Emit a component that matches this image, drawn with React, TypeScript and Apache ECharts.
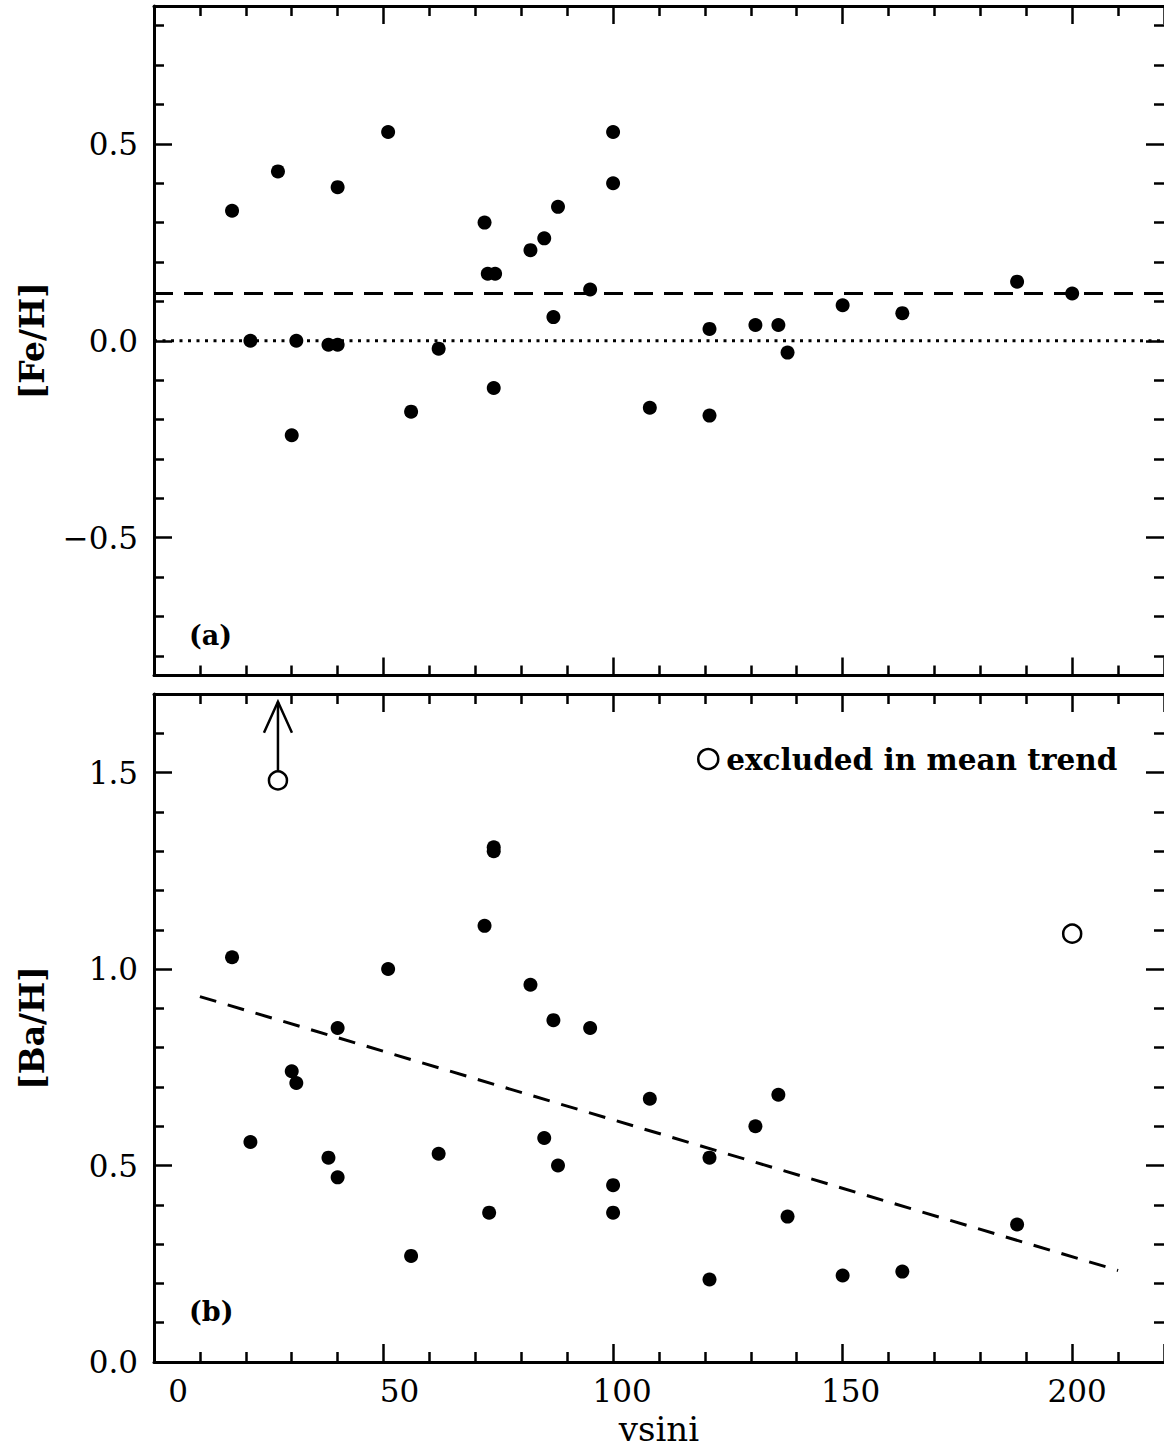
import React, { useEffect, useRef } from "react";
import * as echarts from "echarts";

// ---- data ----
// Panel (a): [Fe/H] vs vsini
const FE_VSINI = [17, 27, 40, 51, 100, 100, 88, 72, 85, 82, 72.7, 74.3, 95, 87, 21, 31, 38, 40, 62, 74, 56, 30, 108, 121, 121, 131, 136, 138, 150, 163, 188, 200];
const FE_H = [0.33, 0.43, 0.39, 0.53, 0.53, 0.40, 0.34, 0.30, 0.26, 0.23, 0.17, 0.17, 0.13, 0.06, 0.00, 0.00, -0.01, -0.01, -0.02, -0.12, -0.18, -0.24, -0.17, -0.19, 0.03, 0.04, 0.04, -0.03, 0.09, 0.07, 0.15, 0.12];
const FE_MEAN = 0.12;
const FE_SOLAR = 0.0;

// Panel (b): [Ba/H] vs vsini
const BA_VSINI = [17, 51, 72, 82, 87, 95, 40, 30, 31, 21, 38, 40, 62, 85, 88, 100, 100, 73, 56, 108, 136, 131, 121, 138, 188, 121, 150, 163, 74, 74];
const BA_H = [1.03, 1.00, 1.11, 0.96, 0.87, 0.85, 0.85, 0.74, 0.71, 0.56, 0.52, 0.47, 0.53, 0.57, 0.50, 0.45, 0.38, 0.38, 0.27, 0.67, 0.68, 0.60, 0.52, 0.37, 0.35, 0.21, 0.22, 0.23, 1.31, 1.30];
const BA_EXCL_VSINI = [27, 200];
const BA_EXCL_H = [1.48, 1.09];
const BA_LIMIT_TIP = 1.68; // upper-limit arrow tip for first excluded point
const TREND_VSINI = [10, 210];
const TREND_BA = [0.93, 0.233];

const X_RANGE = [0, 220];
const FE_RANGE = [-0.85, 0.85];
const BA_RANGE = [0, 1.7];
const X_TICK_LABELS = [0, 50, 100, 150, 200];
const X_LABEL_SHIFT = [24, 16, 9, 8, 5]; // label offsets seen in the reference (px)

const LEGEND_TEXT = "excluded in mean trend";

const FONT = "'DejaVu Serif', serif";

function zip(xs: number[], ys: number[]) {
  return xs.map((x, i) => [x, ys[i]]);
}

export default function App() {
  const ref = useRef<HTMLDivElement>(null);

  useEffect(() => {
    if (!ref.current) return;
    const chart = echarts.init(ref.current, undefined, { renderer: "svg" });

    const axisLine = { show: true, onZero: false, lineStyle: { color: "#000", width: 3 } };
    const hiddenLine = { show: false, onZero: false };
    const axisTick = { show: true, inside: true, length: 18, lineStyle: { color: "#000", width: 2.5 } };
    const minorTick = { show: true, splitNumber: 5, length: 10, lineStyle: { color: "#000", width: 2.5 } };
    const noSplit = { show: false };

    const rich: Record<string, any> = {};
    X_TICK_LABELS.forEach((v, i) => {
      rich["s" + v] = {
        fontFamily: FONT,
        fontSize: 31,
        color: "#000",
        padding: [0, 0, 0, X_LABEL_SHIFT[i] * 2],
      };
    });

    const xBase = (gridIndex: number, position: string, showLabel: boolean) => ({
      type: "value",
      gridIndex,
      position,
      min: X_RANGE[0],
      max: X_RANGE[1],
      interval: 50,
      axisLine,
      axisTick,
      minorTick,
      splitLine: noSplit,
      minorSplitLine: noSplit,
      axisLabel: showLabel
        ? {
            show: true,
            margin: 13,
            showMaxLabel: false,
            fontFamily: FONT,
            fontSize: 31,
            color: "#000",
            formatter: (v: number) => (X_TICK_LABELS.indexOf(v) >= 0 ? `{s${v}|${v}}` : ""),
            rich,
          }
        : { show: false },
    });

    const feFmt = (v: number) => {
      if (Math.abs(v) < 1e-9) return "0.0";
      return v < 0 ? "\u2212" + Math.abs(v).toFixed(1) : v.toFixed(1);
    };

    const option: any = {
      animation: false,
      backgroundColor: "#fff",
      textStyle: { fontFamily: FONT, color: "#000" },
      grid: [
        { left: 154, top: 6, width: 1014, height: 669.5 },
        { left: 154, top: 694, width: 1014, height: 668 },
      ],
      xAxis: [
        xBase(0, "bottom", false),
        xBase(0, "top", false),
        {
          ...xBase(1, "bottom", true),
          name: "vsini",
          nameLocation: "middle",
          nameGap: 50,
          nameTextStyle: { fontFamily: FONT, fontSize: 34, color: "#000" },
        },
        xBase(1, "top", false),
      ],
      yAxis: [
        {
          type: "value",
          gridIndex: 0,
          position: "left",
          min: FE_RANGE[0],
          max: FE_RANGE[1],
          splitNumber: 3,
          axisLine,
          axisTick,
          minorTick,
          splitLine: noSplit,
          minorSplitLine: noSplit,
          axisLabel: {
            show: true,
            margin: 16,
            showMinLabel: false,
            showMaxLabel: false,
            fontFamily: FONT,
            fontSize: 31,
            color: "#000",
            formatter: (v: number) => (Math.abs(v * 2 - Math.round(v * 2)) < 1e-6 ? feFmt(v) : ""),
          },
          name: "[Fe/H]",
          nameLocation: "middle",
          nameGap: 105,
          nameRotate: 90,
          nameTextStyle: { fontFamily: FONT, fontSize: 33, fontWeight: "bold", color: "#000" },
        },
        {
          type: "value",
          gridIndex: 0,
          position: "right",
          min: FE_RANGE[0],
          max: FE_RANGE[1],
          splitNumber: 3,
          axisLine: hiddenLine,
          axisTick,
          minorTick,
          splitLine: noSplit,
          minorSplitLine: noSplit,
          axisLabel: { show: false },
        },
        {
          type: "value",
          gridIndex: 1,
          position: "left",
          min: BA_RANGE[0],
          max: BA_RANGE[1],
          interval: 0.5,
          axisLine,
          axisTick,
          minorTick,
          splitLine: noSplit,
          minorSplitLine: noSplit,
          axisLabel: {
            show: true,
            margin: 16,
            showMaxLabel: false,
            fontFamily: FONT,
            fontSize: 31,
            color: "#000",
            formatter: (v: number) => (Math.abs(v * 2 - Math.round(v * 2)) < 1e-6 ? v.toFixed(1) : ""),
          },
          name: "[Ba/H]",
          nameLocation: "middle",
          nameGap: 105,
          nameRotate: 90,
          nameTextStyle: { fontFamily: FONT, fontSize: 33, fontWeight: "bold", color: "#000" },
        },
        {
          type: "value",
          gridIndex: 1,
          position: "right",
          min: BA_RANGE[0],
          max: BA_RANGE[1],
          interval: 0.5,
          axisLine: hiddenLine,
          axisTick,
          minorTick,
          splitLine: noSplit,
          minorSplitLine: noSplit,
          axisLabel: { show: false },
        },
      ],
      legend: {
        data: [{ name: LEGEND_TEXT, icon: "circle" }],
        left: 697,
        top: 744,
        padding: 0,
        itemWidth: 20,
        itemHeight: 20,
        selectedMode: false,
        itemStyle: { color: "#fff", borderColor: "#000", borderWidth: 2.5, opacity: 1 },
        textStyle: { fontFamily: FONT, fontSize: 29.5, fontWeight: "bold", color: "#000", padding: [0, 0, 0, 3] },
      },
      graphic: [
        {
          type: "text",
          left: 189,
          top: 622,
          style: { text: "(a)", font: `bold 27px ${FONT}`, fill: "#000" },
        },
        {
          type: "text",
          left: 189,
          top: 1298,
          style: { text: "(b)", font: `bold 27px ${FONT}`, fill: "#000" },
        },
      ],
      series: [
        {
          type: "line",
          xAxisIndex: 0,
          yAxisIndex: 0,
          data: [
            [X_RANGE[0], FE_SOLAR],
            [X_RANGE[1], FE_SOLAR],
          ],
          symbol: "none",
          silent: true,
          lineStyle: { color: "#000", width: 3, type: [3, 5.5], opacity: 1 },
          z: 1,
        },
        {
          type: "line",
          xAxisIndex: 0,
          yAxisIndex: 0,
          data: [
            [X_RANGE[0], FE_MEAN],
            [X_RANGE[1], FE_MEAN],
          ],
          symbol: "none",
          silent: true,
          lineStyle: { color: "#000", width: 3, type: [19, 11], opacity: 1 },
          z: 1,
        },
        {
          name: "[Fe/H]",
          type: "scatter",
          xAxisIndex: 0,
          yAxisIndex: 0,
          data: zip(FE_VSINI, FE_H),
          symbol: "circle",
          symbolSize: 14,
          itemStyle: { color: "#000", opacity: 1 },
          z: 3,
        },
        {
          type: "line",
          xAxisIndex: 2,
          yAxisIndex: 2,
          data: zip(TREND_VSINI, TREND_BA),
          symbol: "none",
          silent: true,
          lineStyle: { color: "#000", width: 3, type: [17, 12], opacity: 1 },
          z: 1,
        },
        {
          name: "[Ba/H]",
          type: "scatter",
          xAxisIndex: 2,
          yAxisIndex: 2,
          data: zip(BA_VSINI, BA_H),
          symbol: "circle",
          symbolSize: 14,
          itemStyle: { color: "#000", opacity: 1 },
          z: 3,
        },
        {
          type: "custom",
          coordinateSystem: "cartesian2d",
          xAxisIndex: 2,
          yAxisIndex: 2,
          silent: true,
          data: [[BA_EXCL_VSINI[0], BA_EXCL_H[0], BA_LIMIT_TIP]],
          encode: { x: 0, y: [1, 2] },
          renderItem: (_params: any, api: any) => {
            const p0 = api.coord([api.value(0), api.value(1)]);
            const p1 = api.coord([api.value(0), api.value(2)]);
            return {
              type: "group",
              children: [
                {
                  type: "line",
                  shape: { x1: p0[0], y1: p0[1] - 10, x2: p1[0], y2: p1[1] },
                  style: { stroke: "#000", lineWidth: 2.5 },
                },
                {
                  type: "polyline",
                  shape: {
                    points: [
                      [p1[0] - 14, p1[1] + 31],
                      [p1[0], p1[1]],
                      [p1[0] + 14, p1[1] + 31],
                    ],
                  },
                  style: { stroke: "#000", lineWidth: 2.5, fill: null },
                },
              ],
            };
          },
          z: 2,
        },
        {
          name: LEGEND_TEXT,
          type: "scatter",
          xAxisIndex: 2,
          yAxisIndex: 2,
          data: zip(BA_EXCL_VSINI, BA_EXCL_H),
          symbol: "circle",
          symbolSize: 18,
          itemStyle: { color: "#fff", borderColor: "#000", borderWidth: 2.5, opacity: 1 },
          z: 3,
        },
      ],
    };

    chart.setOption(option);
    return () => chart.dispose();
  }, []);

  return (
    <div
      ref={ref}
      style={{ position: "absolute", left: 0, top: 0, width: 1164, height: 1453, background: "#fff" }}
    />
  );
}
